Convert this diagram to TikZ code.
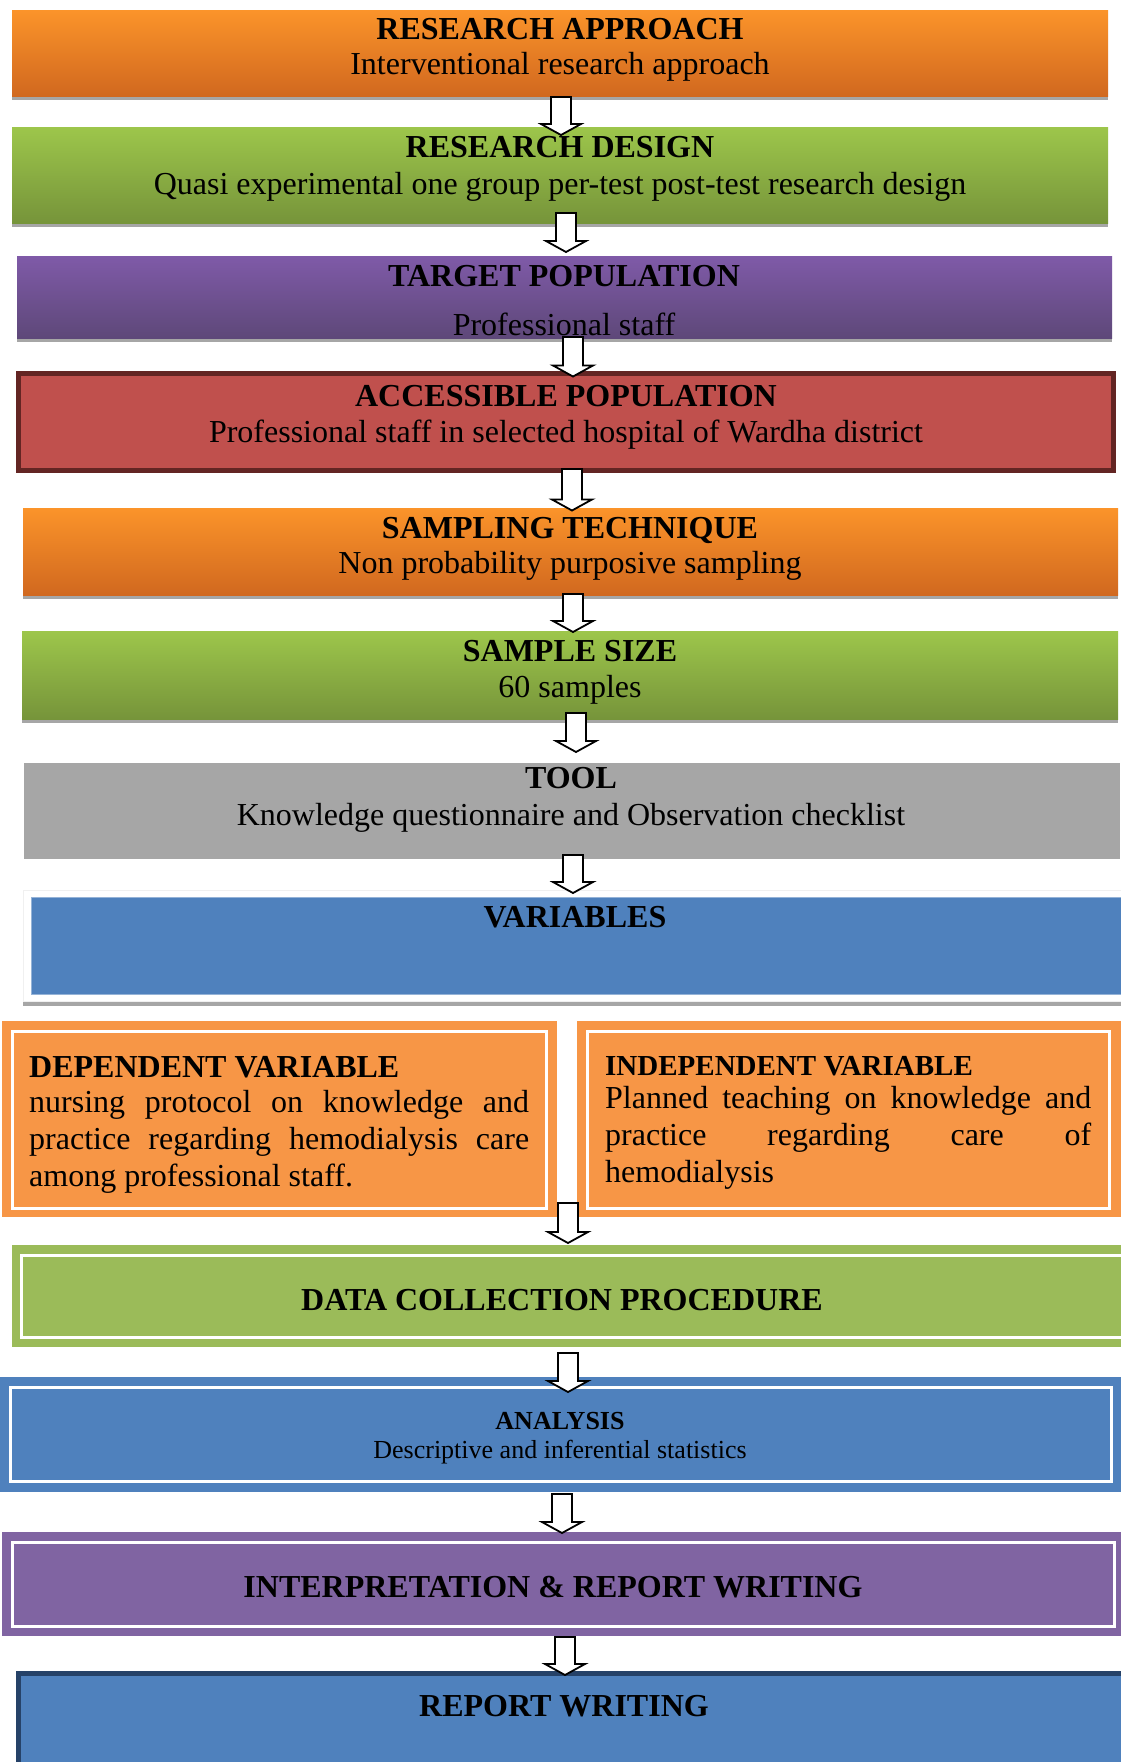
\documentclass[tikz,border=0pt]{standalone}
\usepackage{fontspec}
\setmainfont{Liberation Serif}
\usetikzlibrary{shadows,calc}
\definecolor{orT}{RGB}{251,148,42}
\definecolor{orB}{RGB}{209,104,31}
\definecolor{grT}{RGB}{157,198,75}
\definecolor{grB}{RGB}{118,148,58}
\definecolor{puT}{RGB}{127,90,168}
\definecolor{puB}{RGB}{94,72,121}
\definecolor{redF}{RGB}{192,80,77}
\definecolor{redD}{RGB}{99,37,35}
\definecolor{grayF}{RGB}{166,166,166}
\definecolor{blueF}{RGB}{79,129,189}
\definecolor{blueL}{RGB}{149,179,215}
\definecolor{navyD}{RGB}{38,66,104}
\definecolor{orF}{RGB}{247,150,70}
\definecolor{grF}{RGB}{155,187,89}
\definecolor{puF}{RGB}{128,100,162}
\definecolor{shd}{RGB}{166,166,166}
\begin{document}
\begin{tikzpicture}[x=1pt,y=-1pt,
  box/.style={rectangle, inner sep=0pt, outer sep=0pt, anchor=north west},
  shadowed/.style={drop shadow={shadow xshift=0pt, shadow yshift=-4pt, fill=shd, opacity=1}},
  orbox/.style={box, top color=orT, bottom color=orB, shadowed},
  grbox/.style={box, top color=grT, bottom color=grB, shadowed},
  pubox/.style={box, top color=puT, bottom color=puB, shadowed},
  frame/.style={draw=white, line width=3pt},
  ttl/.style={anchor=base, inner sep=0pt, font=\bfseries\fontsize{32}{36}\selectfont},
  sub/.style={anchor=base, inner sep=0pt, font=\fontsize{32}{36}\selectfont},
  para/.style={anchor=base west, inner sep=0pt, align=justify, font=\fontsize{32}{37}\selectfont},
  blockarrow/.style={draw=black, fill=white, line width=1.8pt, line join=miter, to path={
    let \p1=(\tikztostart), \p2=(\tikztotarget) in
    (\x1-10pt,\y1) -- (\x1+10pt,\y1) -- (\x1+10pt,\y2+11pt) -- (\x1+20pt,\y2+11pt)
    -- (\x1,\y2) -- (\x1-20pt,\y2+11pt) -- (\x1-10pt,\y2+11pt) -- cycle}}]
\useasboundingbox[fill=white] (0,0) rectangle (1120,1762);

% boxes
\node[orbox, minimum width=1096pt, minimum height=86pt] (b1) at (12,10) {};
\node[grbox, minimum width=1096pt, minimum height=96pt] (b2) at (12,127) {};
\node[pubox, minimum width=1095pt, minimum height=82pt] (b3) at (17,256) {};
\node[box, fill=redF, draw=redD, line width=5pt, minimum width=1095pt, minimum height=97pt] (b4) at (18.5,373.5) {};
\node[orbox, minimum width=1095pt, minimum height=87pt] (b5) at (23,508) {};
\node[grbox, minimum width=1096pt, minimum height=88pt] (b6) at (22,631) {};
\node[box, fill=grayF, minimum width=1096pt, minimum height=96pt] (b7) at (24,763) {};
\draw[black!6, line width=1pt] (23,890) rectangle (1130,1001);
\fill[shd] (23,1002) rectangle (1125,1006);
\node[box, fill=blueF, draw=blueL, line width=0.8pt, minimum width=1090pt, minimum height=97pt] (b8) at (31,897) {};
\node[box, fill=orF, minimum width=555pt, minimum height=196pt] (b9a) at (2,1021) {};
\draw[frame] (12,1031) rectangle (546,1208);
\node[box, fill=orF, minimum width=548pt, minimum height=196pt] (b9b) at (577,1021) {};
\draw[frame] (587,1031) rectangle (1109,1208);
\node[box, fill=grF, minimum width=1113pt, minimum height=102pt] (b10) at (12,1245) {};
\draw[frame] (21,1255) rectangle (1135,1337);
\node[box, fill=blueF, minimum width=1125pt, minimum height=115pt] (b11) at (0,1377) {};
\draw[frame] (10,1387) rectangle (1111,1481);
\node[box, fill=puF, minimum width=1123pt, minimum height=104pt] (b12) at (2,1532) {};
\draw[frame] (12,1542) rectangle (1114,1626);
\node[box, fill=blueF, draw=navyD, line width=5pt, minimum width=1115pt, minimum height=100pt] (b13) at (18.5,1673.5) {};

% texts
\node[ttl] (t1) at (560,39) {RESEARCH APPROACH};
\node[sub] (s1) at (560,74) {Interventional research approach};
\node[ttl] (t2) at (560,157) {RESEARCH DESIGN};
\node[sub] (s2) at (560,194) {Quasi experimental one group per-test post-test research design};
\node[ttl] (t3) at (564,286) {TARGET POPULATION};
\node[sub] (s3) at (564,335) {Professional staff};
\node[ttl] (t4) at (566,406) {ACCESSIBLE POPULATION};
\node[sub] (s4) at (566,442) {Professional staff in selected hospital of Wardha district};
\node[ttl] (t5) at (570,538) {SAMPLING TECHNIQUE};
\node[sub] (s5) at (570,573) {Non probability purposive sampling};
\node[ttl] (t6) at (570,661) {SAMPLE SIZE};
\node[sub] (s6) at (570,697) {60 samples};
\node[ttl] (t7) at (571,788) {TOOL};
\node[sub] (s7) at (571,825) {Knowledge questionnaire and Observation checklist};
\node[ttl] (t8) at (575,927) {VARIABLES};
\node[ttl, anchor=base west] (t9a) at (29,1077) {DEPENDENT VARIABLE};
\node[para, text width=500pt] (s9a) at (29,1112) {\sloppy nursing protocol on knowledge and\linebreak practice regarding hemodialysis care\linebreak among professional staff.};
\node[ttl, anchor=base west, font=\bfseries\fontsize{29}{34}\selectfont] (t9b) at (605,1075) {INDEPENDENT VARIABLE};
\node[para, text width=486pt, font=\fontsize{32}{37}\selectfont] (s9b) at (605,1108) {\sloppy Planned teaching on knowledge and\linebreak practice regarding care of\linebreak hemodialysis};
\node[ttl] (t10) at (562,1310) {DATA COLLECTION PROCEDURE};
\node[ttl, font=\bfseries\fontsize{26}{30}\selectfont] (t11) at (560,1429) {ANALYSIS};
\node[sub, font=\fontsize{26}{30}\selectfont] (s11) at (560,1458) {Descriptive and inferential statistics};
\node[ttl] (t12) at (553,1597) {INTERPRETATION \& REPORT WRITING};
\node[ttl] (t13) at (564,1716) {REPORT WRITING};

% connectors
\draw[blockarrow] ([xshift=1pt,yshift=-1pt]b1.south) to ([yshift=-8pt]b2.north);
\draw[blockarrow] ([xshift=6pt,yshift=10pt]b2.south) to ([yshift=4pt]b3.north);
\draw[blockarrow] ([xshift=8.5pt,yshift=1pt]b3.south) to ([yshift=-3pt]b4.north);
\draw[blockarrow] ([xshift=6pt,yshift=1.5pt]b4.south) to ([yshift=-2.5pt]b5.north);
\draw[blockarrow] ([xshift=2.5pt,yshift=1pt]b5.south) to ([yshift=-1pt]b6.north);
\draw[blockarrow] ([xshift=6pt,yshift=6pt]b6.south) to ([yshift=11pt]b7.north);
\draw[blockarrow] ([xshift=1pt,yshift=4pt]b7.south) to ([yshift=4pt]b8.north);
\draw[blockarrow] ([xshift=11pt,yshift=14pt]b9a.south east) to ([yshift=2pt]b10.north);
\draw[blockarrow] ([xshift=-0.5pt,yshift=-6pt]b10.south) to ([yshift=-15pt]b11.north);
\draw[blockarrow] ([xshift=-0.5pt,yshift=-2pt]b11.south) to ([yshift=-1pt]b12.north);
\draw[blockarrow] ([xshift=1.5pt,yshift=-1pt]b12.south) to ([yshift=-1.5pt]b13.north);
\end{tikzpicture}
\end{document}
